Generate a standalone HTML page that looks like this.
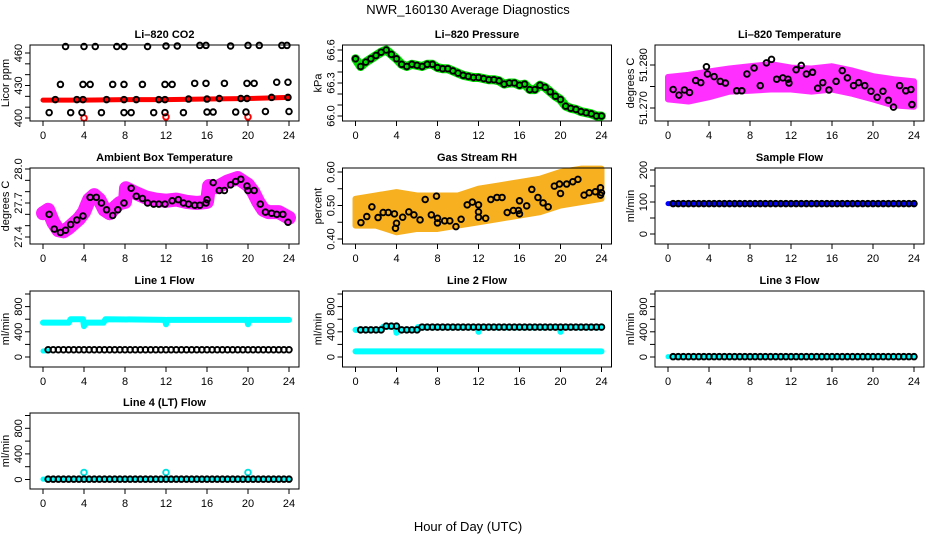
<!DOCTYPE html>
<html><head><meta charset="utf-8">
<style>
html,body{margin:0;padding:0;background:#fff;}
svg{display:block;font-family:"Liberation Sans",sans-serif;}
</style></head>
<body>
<svg id="chart" width="936" height="540" viewBox="0 0 936 540" xmlns="http://www.w3.org/2000/svg">
<rect width="936" height="540" fill="#fff"/>
<text x="468" y="14" text-anchor="middle" font-size="13">NWR_160130  Average Diagnostics</text>
<text x="468" y="531" text-anchor="middle" font-size="13">Hour of Day (UTC)</text>
</svg>
<script>
const xTicks=[0,4,8,12,16,20,24];
const xTickLabels=["0","4","8","12","16","20","24"];
const T48=[0.5,1,1.5,2,2.5,3,3.5,4,4.5,5,5.5,6,6.5,7,7.5,8,8.5,9,9.5,10,10.5,11,11.5,12,12.5,13,13.5,14,14.5,15,15.5,16,16.5,17,17.5,18,18.5,19,19.5,20,20.5,21,21.5,22,22.5,23,23.5,24];

// CO2
const co2T=[2.2,4.0,5.1,7.2,7.9,10.2,12.0,13.1,15.3,15.9,18.3,20.0,21.1,23.3,23.8,
1.7,3.9,4.6,6.8,7.9,9.7,11.9,12.6,14.8,15.9,17.7,19.9,20.6,22.8,23.9,
1.2,3.3,3.9,6.2,7.9,9.1,11.3,11.9,14.2,16.0,17.2,19.3,19.9,22.3,23.9,
0.6,2.7,3.8,5.7,7.9,8.6,10.8,11.9,13.7,16.0,16.6,18.8,19.8,21.7,24.0];
const co2V=[466,466,466,466,466,466,466.5,466.5,467,467,466.5,467,467,467,467,
431,431,431,431,431,431,431,431,432,432,432,432,432,433,433,
417,417,417,417,417,417,417,417,417.5,417.5,418,418,418,419,419,
405,405,405,405,405,405,405,405,405,405.5,405.5,405.5,405.5,406,406];
const co2RedT=[0,4,8,12,16,20,24];
const co2RedV=[416.5,416.5,417,417,417.5,418,419];
const co2OutT=[4.0,12.0,20.0];
const co2OutV=[400,401,401];

// Pressure
const presT=[0,0.5,1,1.5,2,2.5,3,3.5,4,4.5,5,5.5,6,6.5,7,7.5,8,8.5,9,9.5,10,10.5,11,11.5,12,12.5,13,13.5,14,14.5,15,15.5,16,16.5,17,17.5,18,18.5,19,19.5,20,20.5,21,21.5,22,22.5,23,23.5,24];
const presV=[66.52,66.45,66.49,66.52,66.55,66.58,66.60,66.56,66.52,66.47,66.45,66.47,66.46,66.45,66.47,66.47,66.44,66.43,66.43,66.41,66.39,66.37,66.36,66.35,66.35,66.34,66.33,66.33,66.32,66.29,66.30,66.30,66.28,66.29,66.24,66.24,66.28,66.26,66.22,66.18,66.15,66.09,66.07,66.06,66.04,66.03,66.02,66.00,66.00];

// Li-820 temperature
const ltT=[0.5,1.07,1.6,2.1,2.7,3.2,3.75,3.85,4.5,5.1,5.6,6.7,7.2,7.7,8.4,9.0,9.6,10.1,10.6,11.2,11.7,11.8,12.5,13.0,13.5,14.1,14.6,15.1,15.7,16.4,17.0,17.5,18.1,18.6,19.2,19.8,20.4,20.97,21.5,22.0,22.6,23.2,23.7,23.8];
const ltV=[51.2743,51.2730,51.2742,51.2736,51.2764,51.2759,51.2796,51.2779,51.2773,51.2762,51.2758,51.2740,51.2740,51.2779,51.2793,51.2752,51.2805,51.2813,51.2767,51.2770,51.2767,51.2758,51.2789,51.2799,51.2779,51.2783,51.2746,51.2759,51.2742,51.2762,51.2787,51.2770,51.2752,51.2759,51.2752,51.2739,51.2725,51.2739,51.2718,51.2702,51.2752,51.2740,51.2743,51.2708];
const ltBandT=[0,2,4,6,8,10,12,14,16,18,20,22,24];
const ltHi=[51.2772,51.2777,51.2785,51.2792,51.2797,51.2802,51.2794,51.2792,51.2797,51.2787,51.2774,51.2767,51.2762];
const ltLo=[51.2720,51.2715,51.2725,51.2738,51.2740,51.2743,51.2743,51.2738,51.2743,51.2733,51.2720,51.2706,51.2703];

// Ambient box temperature
const ambT=[0.6,1.1,1.7,2.2,2.7,3.3,3.9,4.6,5.2,5.7,6.2,6.8,7.3,7.9,8.6,9.1,9.7,10.2,10.8,11.3,11.9,12.6,13.2,13.7,14.2,14.8,15.3,15.9,16.0,16.6,17.2,17.7,18.3,18.8,19.3,19.9,20.0,20.6,21.2,21.7,22.3,22.8,23.4,23.9];
const ambV=[27.60,27.47,27.44,27.46,27.51,27.55,27.585,27.75,27.75,27.70,27.64,27.59,27.64,27.70,27.83,27.76,27.74,27.70,27.69,27.69,27.69,27.72,27.73,27.70,27.69,27.68,27.68,27.70,27.73,27.88,27.81,27.81,27.86,27.89,27.91,27.85,27.81,27.81,27.69,27.62,27.61,27.60,27.60,27.53];
const ambBandT=[0,0.5,1,1.5,2,2.5,3,3.5,4,4.5,5,5.5,6,6.5,7,7.5,8,8.1,9,10,11,12,13,14,15,16,16.2,17,18,19,20,20.5,21,21.5,22,23,24];
const ambBandV=[27.61,27.64,27.53,27.46,27.45,27.48,27.52,27.56,27.62,27.73,27.77,27.73,27.64,27.61,27.66,27.70,27.71,27.83,27.79,27.75,27.73,27.72,27.73,27.71,27.70,27.71,27.85,27.84,27.89,27.92,27.86,27.80,27.71,27.64,27.62,27.62,27.57];

// Gas stream RH
const rhT=[0.53,1.1,1.6,2.2,2.7,3.2,3.8,3.9,4.0,4.6,5.2,5.7,6.3,6.8,7.4,7.9,8.0,8.0,8.7,9.2,9.8,10.3,10.9,11.4,12.0,12.0,12.0,12.7,13.2,13.8,14.3,14.8,15.4,15.9,16.0,16.0,16.7,17.2,17.8,18.3,18.8,19.4,19.9,20.0,20.6,21.2,21.7,22.3,22.8,23.4,23.9,23.9,24.0];
const rhV=[0.449,0.467,0.496,0.464,0.479,0.479,0.475,0.432,0.447,0.465,0.481,0.472,0.457,0.518,0.472,0.528,0.462,0.448,0.454,0.454,0.437,0.459,0.502,0.510,0.502,0.481,0.465,0.462,0.518,0.524,0.524,0.479,0.485,0.485,0.514,0.475,0.499,0.548,0.524,0.508,0.496,0.558,0.564,0.536,0.564,0.571,0.578,0.531,0.538,0.541,0.553,0.531,0.538];
const rhBandT=[0,2,4,6,8,10,12,14,16,18,20,22,24];
const rhHi=[0.52,0.53,0.54,0.53,0.53,0.53,0.55,0.56,0.57,0.58,0.60,0.61,0.61];
const rhLo=[0.44,0.44,0.42,0.43,0.43,0.44,0.45,0.46,0.47,0.48,0.50,0.51,0.52];

// Sample flow
const sfV=[95,95,95,95,95,95,95,95,95,95,95,95,95,95,95,95,95,95,95,95,95,95,95,95,95,95,95,95,95,95,95,95,95,95,95,95,95,95,95,95,95,95,95,95,95,95,95,95];
const sfLineT=[0,24];
const sfLineV=[95,95];

// Line 1 flow
const l1V=[115,115,115,115,115,115,115,115,115,115,115,115,115,115,115,115,115,115,115,115,115,115,115,115,115,115,115,115,115,115,115,115,115,115,115,115,115,115,115,115,115,115,115,115,115,115,115,115];
const l1CyanT=[0,2.5,2.7,3.9,4.0,4.2,5.9,6.1,11.9,12.0,12.1,19.9,20.0,20.1,24];
const l1CyanV=[545,545,600,600,490,545,545,600,590,520,590,590,520,590,590];
const l1LowT=[0,0.6];
const l1LowV=[95,100];

// Line 2 flow
const l2V=[430,430,430,430,430,490,490,490,430,430,430,430,475,475,475,475,475,475,475,475,475,475,475,475,475,475,475,475,475,475,475,475,475,475,475,475,475,475,475,475,475,475,475,475,475,475,475,475];
const l2CyanT=[0,2.5,2.7,3.9,4.0,4.2,5.9,6.1,11.9,12.0,12.1,19.9,20.0,20.1,24];
const l2CyanV=[430,430,480,480,385,430,430,475,470,400,470,470,400,470,470];
const l2LowT=[0,24];
const l2LowV=[90,90];

// Line 3 flow
const l3V=[5,5,5,5,5,5,5,5,5,5,5,5,5,5,5,5,5,5,5,5,5,5,5,5,5,5,5,5,5,5,5,5,5,5,5,5,5,5,5,5,5,5,5,5,5,5,5,5];
const l3CyanT=[0,24];
const l3CyanV=[5,5];

// Line 4 flow
const l4V=[5,5,5,5,5,5,5,5,5,5,5,5,5,5,5,5,5,5,5,5,5,5,5,5,5,5,5,5,5,5,5,5,5,5,5,5,5,5,5,5,5,5,5,5,5,5,5,5];
const l4SpikeT=[4.0,12.0,20.0];
const l4SpikeV=[110,110,110];

const svg=document.getElementById('chart');
const NS='http://www.w3.org/2000/svg';
const ROWS=[45,168,291,413];
function mk(tag,parent){const e=document.createElementNS(NS,tag);parent.appendChild(e);return e;}

function panel(col,row,name,title,ylab,vA,oA,vB,oB,yTicks,yLabels){
  const L=30+312.5*col, T=ROWS[row], W=269, H=76;
  const g=mk('g',svg);
  
  
  const xs=h=>L+13+h*246/24;
  const ys=v=>T+oA+(v-vA)*(oB-oA)/(vB-vA);
  const t=mk('text',g);t.setAttribute('x',L+W/2);t.setAttribute('y',T-7);
  t.setAttribute('text-anchor','middle');t.setAttribute('font-size','11');t.setAttribute('font-weight','bold');
  t.textContent=title;
  
  
  const plot=mk('g',g);
  
  
  const box=mk('rect',g);box.setAttribute('x',L);box.setAttribute('y',T);box.setAttribute('width',W);box.setAttribute('height',H);
  box.setAttribute('fill','none');box.setAttribute('stroke','#000');box.setAttribute('stroke-width','1');
  
  
  const xa=mk('g',g);
  
  
  xTicks.forEach((h,i)=>{
    const l=mk('line',xa);l.setAttribute('x1',xs(h));l.setAttribute('x2',xs(h));l.setAttribute('y1',T+H);l.setAttribute('y2',T+H+5);l.setAttribute('stroke','#000');
    const tx=mk('text',xa);tx.setAttribute('x',xs(h));tx.setAttribute('y',T+H+18);tx.setAttribute('text-anchor','middle');tx.setAttribute('font-size','11');
    tx.textContent=xTickLabels[i];
  });
  const ya=mk('g',g);
  
  
  const al=mk('line',ya);al.setAttribute('x1',L);al.setAttribute('x2',L);al.setAttribute('y1',ys(yTicks[0]));al.setAttribute('y2',ys(yTicks[yTicks.length-1]));al.setAttribute('stroke','#000');
  yTicks.forEach((v,i)=>{
    const l=mk('line',ya);l.setAttribute('x1',L-5);l.setAttribute('x2',L);l.setAttribute('y1',ys(v));l.setAttribute('y2',ys(v));l.setAttribute('stroke','#000');
    if(yLabels[i]){const tx=mk('text',ya);const x=L-8,y=ys(v);
      tx.setAttribute('x',x);tx.setAttribute('y',y);tx.setAttribute('text-anchor','middle');tx.setAttribute('font-size','11');
      tx.setAttribute('transform','rotate(-90 '+x+' '+y+')');tx.textContent=yLabels[i];}
  });
  const yt=mk('text',ya);const yx=L-21,yy=T+H/2;
  yt.setAttribute('x',yx);yt.setAttribute('y',yy);yt.setAttribute('text-anchor','middle');yt.setAttribute('font-size','11');
  yt.setAttribute('transform','rotate(-90 '+yx+' '+yy+')');yt.textContent=ylab;
  
  
  return {g:plot,xs,ys};
}
function circles(p,ts,vs,color,name,r){
  const grp=mk('g',p.g);
  
  
  ts.forEach((h,i)=>{const c=mk('circle',grp);c.setAttribute('cx',p.xs(h));c.setAttribute('cy',p.ys(vs[i]));c.setAttribute('r',r||2.8);
    c.setAttribute('fill','none');c.setAttribute('stroke',color);c.setAttribute('stroke-width','1.9');});
}
function thick(p,ts,vs,color,w,name){
  const pl=mk('polyline',p.g);
  pl.setAttribute('points',ts.map((h,i)=>p.xs(h)+','+p.ys(vs[i])).join(' '));
  pl.setAttribute('fill','none');pl.setAttribute('stroke',color);pl.setAttribute('stroke-width',w);
  pl.setAttribute('stroke-linejoin','round');pl.setAttribute('stroke-linecap','round');
  
  
}
function band(p,ts,hi,lo,color,name){
  const pts=ts.map((h,i)=>p.xs(h)+','+p.ys(hi[i])).concat(ts.slice().reverse().map((h,i)=>p.xs(h)+','+p.ys(lo[ts.length-1-i])));
  const pg=mk('polygon',p.g);pg.setAttribute('points',pts.join(' '));
  pg.setAttribute('fill',color);pg.setAttribute('stroke',color);pg.setAttribute('stroke-width','6');pg.setAttribute('stroke-linejoin','round');
  
  
}

const flowTicks=[0,200,400,600,800,1000];
const flowLabels=["0","","400","","800",""];

let p=panel(0,0,'co2','Li\u2013820 CO2','Licor ppm',460,8,400,73,[400,410,420,430,440,450,460],["400","","","430","","","460"]);
thick(p,co2RedT,co2RedV,'#ff0000',5,'co2-red-series');
circles(p,co2OutT,co2OutV,'#ff0000','co2-red-outliers');
circles(p,co2T,co2V,'#000','co2-averages');

p=panel(1,0,'pressure','Li\u2013820 Pressure','kPa',66.6,5,66.0,71,[66.0,66.1,66.2,66.3,66.4,66.5,66.6],["66.0","","","66.3","","","66.6"]);
thick(p,presT,presV,'#00e000',9,'pressure-green-series');
circles(p,presT,presV,'#000','pressure-averages');

p=panel(2,0,'li820-temp','Li\u2013820 Temperature','degrees C',51.280,20,51.270,63,[51.270,51.275,51.280],["51.270","","51.280"]);
band(p,ltBandT,ltHi,ltLo,'#ff30ff','li820-temp-magenta-band');
circles(p,ltT,ltV,'#000','li820-temp-averages');

p=panel(0,1,'ambient','Ambient Box Temperature','degrees C',28.0,1,27.4,69,[27.4,27.5,27.6,27.7,27.8,27.9,28.0],["27.4","","","27.7","","","28.0"]);
thick(p,ambBandT,ambBandV,'#ff20ff',14,'ambient-magenta-series');
circles(p,ambT,ambV,'#000','ambient-averages');

p=panel(1,1,'rh','Gas Stream RH','percent',0.60,4,0.40,71,[0.40,0.45,0.50,0.55,0.60],["0.40","","0.50","","0.60"]);
band(p,rhBandT,rhHi,rhLo,'#f6b020','rh-orange-band');
circles(p,rhT,rhV,'#000','rh-averages');

p=panel(2,1,'sample-flow','Sample Flow','ml/min',200,2,0,66,[0,50,100,150,200],["0","","100","","200"]);
thick(p,sfLineT,sfLineV,'#0000ff',5,'sample-flow-blue-series');
circles(p,T48,sfV,'#000','sample-flow-averages');

p=panel(0,2,'line1','Line 1 Flow','ml/min',1000,3,0,66,flowTicks,flowLabels);
thick(p,l1CyanT,l1CyanV,'#00ffff',6,'line1-cyan-series');
thick(p,l1LowT,l1LowV,'#00ffff',5,'line1-cyan-low');
circles(p,T48,l1V,'#000','line1-averages');

p=panel(1,2,'line2','Line 2 Flow','ml/min',1000,3,0,66,flowTicks,flowLabels);
thick(p,l2CyanT,l2CyanV,'#00ffff',6,'line2-cyan-series');
thick(p,l2LowT,l2LowV,'#00ffff',6,'line2-cyan-low');
circles(p,T48,l2V,'#000','line2-averages');

p=panel(2,2,'line3','Line 3 Flow','ml/min',1000,3,0,66,flowTicks,flowLabels);
thick(p,l3CyanT,l3CyanV,'#00ffff',5,'line3-cyan-series');
circles(p,T48,l3V,'#000','line3-averages');

p=panel(0,3,'line4','Line 4 (LT) Flow','ml/min',1000,2.5,0,66.5,flowTicks,flowLabels);
thick(p,l3CyanT,l3CyanV,'#00ffff',5,'line4-cyan-series');
circles(p,l4SpikeT,l4SpikeV,'#00e0e0','line4-cyan-spikes');
circles(p,T48,l4V,'#000','line4-averages');
</script>
</body></html>
